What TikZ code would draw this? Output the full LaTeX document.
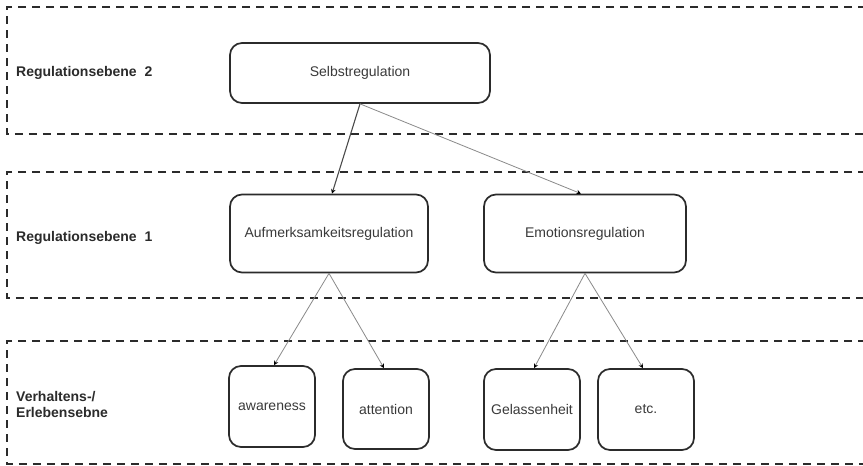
\documentclass[tikz,border=0pt]{standalone}
\usepackage{fontspec}
\setmainfont{Liberation Sans}
\usetikzlibrary{arrows.meta}
\definecolor{ink}{HTML}{2B2B2B}
\definecolor{txt}{HTML}{3A3A3A}
\definecolor{lightlink}{HTML}{8A8A8A}
\tikzset{
  lane/.style={draw=ink, line width=2pt, dash pattern=on 8pt off 6pt},
  lanelabel/.style={font=\fontsize{14}{16}\selectfont\bfseries, text=ink, anchor=west, align=left, inner sep=0pt},
  box/.style={draw=ink, line width=1.7pt, rounded corners=12pt, fill=white,
              font=\fontsize{14}{16}\selectfont, text=txt, inner sep=0pt},
  mainlink/.style={draw=ink!85, line width=1.1pt, -{Stealth[length=4.5pt,width=4.5pt,color=black]}},
  sublink/.style={draw=lightlink, line width=0.8pt, -{Stealth[length=4.5pt,width=4.5pt,color=black]}}
}
\begin{document}
\begin{tikzpicture}[x=1pt,y=-1pt]
\useasboundingbox (0,0) rectangle (863,466);
\fill[white] (0,0) rectangle (863,466);

% three open-ended dashed bands
\draw[lane] (866,7) -- (7,7) -- (7,134) -- (866,134);
\draw[lane] (866,172) -- (7,172) -- (7,298) -- (866,298);
\draw[lane] (866,341) -- (7,341) -- (7,464) -- (866,464);

% band captions
\node[lanelabel] (l2) at (16,73) {Regulationsebene\ \ 2};
\node[lanelabel] (l1) at (16,238) {Regulationsebene\ \ 1};
\node[lanelabel] (l0) at (16,404) {Verhaltens-/\\Erlebensebne};

% boxes
\node[box, minimum width=260pt, minimum height=60pt] (sel) at (360,73) {Selbstregulation};
\node[box, minimum width=198pt, minimum height=78pt] (auf) at (329,233.5) {Aufmerksamkeitsregulation};
\node[box, minimum width=202pt, minimum height=78pt] (emo) at (585,233.5) {Emotionsregulation};
\node[box, minimum width=86pt, minimum height=81pt] (aw) at (272,406.5) {awareness};
\node[box, minimum width=86pt, minimum height=80pt] (att) at (386,409) {attention};
\node[box, minimum width=96pt, minimum height=81pt] (gel) at (532,409.5) {Gelassenheit};
\node[box, minimum width=96pt, minimum height=81pt] (etc) at (646,409.5) {etc.};

% links
\draw[mainlink] (sel.south) -- ([xshift=3pt]auf.north);
\draw[sublink] (sel.south) -- ([xshift=-4pt]emo.north);
\draw[sublink] (auf.south) -- ([xshift=2pt]aw.north);
\draw[sublink] (auf.south) -- ([xshift=-2pt]att.north);
\draw[sublink] (emo.south) -- ([xshift=2pt]gel.north);
\draw[sublink] (emo.south) -- ([xshift=-3pt]etc.north);
\end{tikzpicture}
\end{document}
